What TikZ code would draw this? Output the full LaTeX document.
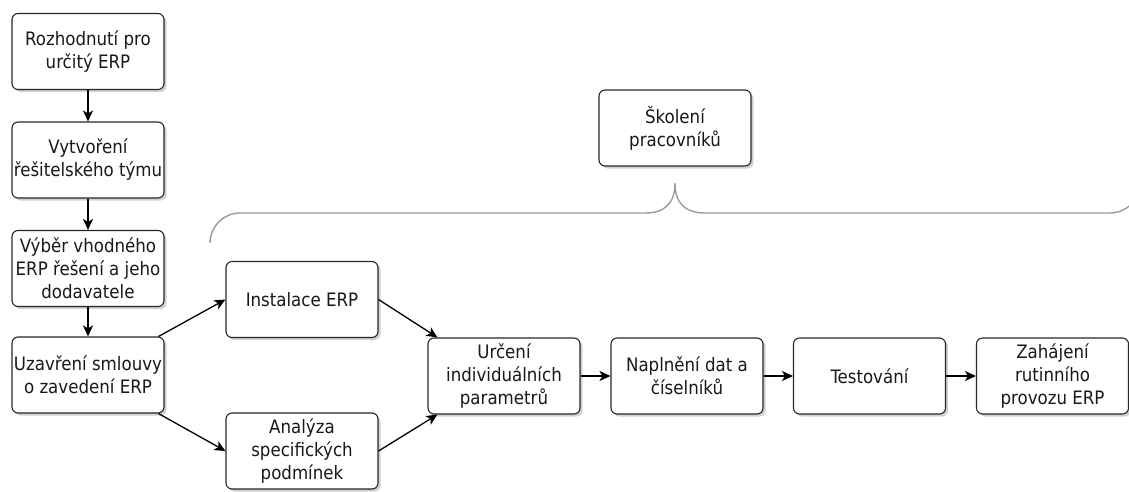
\documentclass[tikz,border=0pt]{standalone}
\usepackage{fontspec}
\setmainfont{DejaVu Sans Condensed}
\usetikzlibrary{arrows.meta,shadows}
\begin{document}
\begin{tikzpicture}[x=1pt,y=-1pt,
  box/.style={draw=black!85, line width=1.1pt, rounded corners=6pt, fill=white,
    minimum width=152pt, minimum height=76pt, inner sep=0pt, align=center,
    text=black!90, font=\fontsize{18.5}{23}\selectfont,
    drop shadow={shadow xshift=2.5pt, shadow yshift=-2.5pt, fill=black!30, opacity=0.6}},
  arr/.style={-{Stealth[length=11pt,width=10pt,inset=3pt]}, line width=1.3pt, black},
  brace/.style={draw=black!40, line width=1.4pt}]
\clip (0,0) rectangle (1129,491);
\useasboundingbox (0,0) rectangle (1129,491);

\node[box] (b1) at (88,51.5) {Rozhodnutí pro\\určitý ERP};
\node[box] (b2) at (88,160) {Vytvoření\\řešitelského týmu};
\node[box] (b3) at (88,268.5) {Výběr vhodného\\ERP řešení a jeho\\dodavatele};
\node[box] (b4) at (88,375) {Uzavření smlouvy\\o zavedení ERP};
\node[box] (inst) at (302,299.5) {Instalace ERP};
\node[box] (anal) at (302,451) {Analýza\\specifických\\podmínek};
\node[box] (urc) at (504,376) {Určení\\individuálních\\parametrů};
\node[box] (napl) at (687,376) {Naplnění dat a\\číselníků};
\node[box] (test) at (869.5,376) {Testování};
\node[box] (zah) at (1052.5,376) {Zahájení\\rutinního\\provozu ERP};
\node[box] (skol) at (675,128) {Školení\\pracovníků};

\draw[arr] (b1) -- (b2);
\draw[arr] (b2) -- (b3);
\draw[arr] (b3) -- (b4);
\draw[arr] (b4.north east) ++(-6,0) coordinate (b4ne) -- (inst.west);
\draw[arr] (b4.south east) ++(-6,0) coordinate (b4se) -- (anal.west);
\draw[arr] (inst.east) -- ([xshift=10pt]urc.north west);
\draw[arr] (anal.east) -- ([xshift=10pt]urc.south west);
\draw[arr] (urc) -- (napl);
\draw[arr] (napl) -- (test);
\draw[arr] (test) -- (zah);

\coordinate (tip) at (675,183);
\draw[brace] (210,243) arc[start angle=180, end angle=270, radius=30] -- (645,213)
  .. controls (665,213) and (675,203) .. (tip)
  .. controls (675,203) and (685,213) .. (705,213) -- (1110,213)
  arc[start angle=90, end angle=0, radius=30];
\end{tikzpicture}
\end{document}
